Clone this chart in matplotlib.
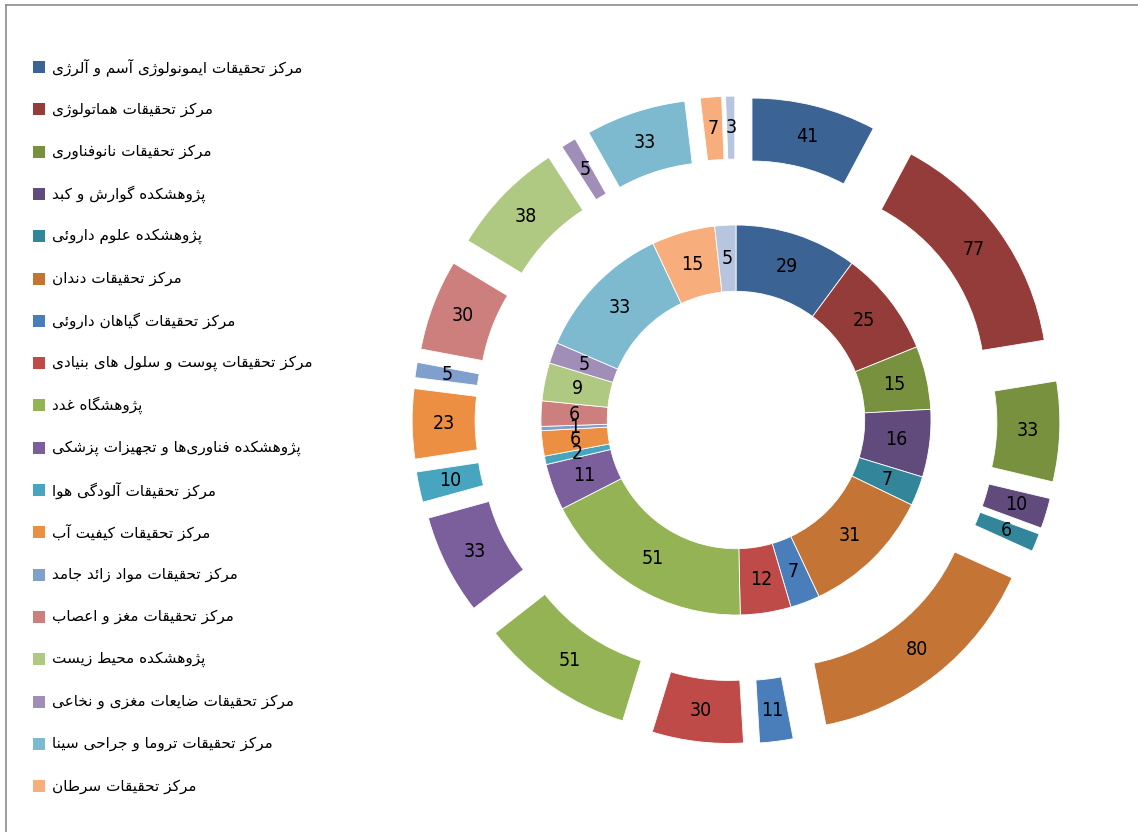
#!/usr/bin/env python3
'''Double donut of research centres (inner and outer ring), Persian legend.'''

import math
import matplotlib
matplotlib.use('Agg')
import matplotlib.pyplot as plt
from matplotlib import font_manager
from matplotlib.patches import Rectangle
from matplotlib.lines import Line2D


centres = [
	'مرکز تحقیقات ایمونولوژی آسم و آلرژی',
	'مرکز تحقیقات هماتولوژی',
	'مرکز تحقیقات نانوفناوری',
	'پژوهشکده گوارش و کبد',
	'پژوهشکده علوم داروئی',
	'مرکز تحقیقات دندان ',
	'مرکز تحقیقات گیاهان داروئی',
	'مرکز تحقیقات پوست و سلول های بنیادی',
	'پژوهشگاه غدد',
	'پژوهشکده فناوری\u200cها و تجهیزات پزشکی',
	'مرکز تحقیقات آلودگی هوا',
	'مرکز تحقیقات کیفیت آب',
	'مرکز تحقیقات مواد زائد جامد',
	'مرکز تحقیقات مغز و اعصاب',
	'پژوهشکده محیط زیست',
	'مرکز تحقیقات ضایعات مغزی و نخاعی',
	'مرکز تحقیقات تروما و جراحی سینا',
	'مرکز تحقیقات سرطان',
]
# 19th slice has no legend entry in the original
inner_values = [29, 25, 15, 16, 7, 31, 7, 12, 51, 11, 2, 6, 1, 6, 9, 5, 33, 15, 5]
outer_values = [41, 77, 33, 10, 6, 80, 11, 30, 51, 33, 10, 23, 5, 30, 38, 5, 33, 7, 3]

colors = ['#3b6494', '#943c3a', '#77913f', '#614a7c', '#33869a', '#c47535',
	'#4a7ebb', '#be4b48', '#93b354', '#7b5e9c', '#47a5bf', '#ec8f42',
	'#809fcc', '#cd7f7e', '#afc882', '#a08db8', '#7db9cf', '#f7ad7c', '#b8c5df']


# --- minimal arabic/persian shaping (matplotlib has no text shaping) ---
FORMS = {
	'\u0621': ('\uFE80', None, None, None),
	'\u0622': ('\uFE81', '\uFE82', None, None),
	'\u0623': ('\uFE83', '\uFE84', None, None),
	'\u0624': ('\uFE85', '\uFE86', None, None),
	'\u0625': ('\uFE87', '\uFE88', None, None),
	'\u0626': ('\uFE89', '\uFE8A', '\uFE8B', '\uFE8C'),
	'\u0627': ('\uFE8D', '\uFE8E', None, None),
	'\u0628': ('\uFE8F', '\uFE90', '\uFE91', '\uFE92'),
	'\u0629': ('\uFE93', '\uFE94', None, None),
	'\u062A': ('\uFE95', '\uFE96', '\uFE97', '\uFE98'),
	'\u062B': ('\uFE99', '\uFE9A', '\uFE9B', '\uFE9C'),
	'\u062C': ('\uFE9D', '\uFE9E', '\uFE9F', '\uFEA0'),
	'\u062D': ('\uFEA1', '\uFEA2', '\uFEA3', '\uFEA4'),
	'\u062E': ('\uFEA5', '\uFEA6', '\uFEA7', '\uFEA8'),
	'\u062F': ('\uFEA9', '\uFEAA', None, None),
	'\u0630': ('\uFEAB', '\uFEAC', None, None),
	'\u0631': ('\uFEAD', '\uFEAE', None, None),
	'\u0632': ('\uFEAF', '\uFEB0', None, None),
	'\u0633': ('\uFEB1', '\uFEB2', '\uFEB3', '\uFEB4'),
	'\u0634': ('\uFEB5', '\uFEB6', '\uFEB7', '\uFEB8'),
	'\u0635': ('\uFEB9', '\uFEBA', '\uFEBB', '\uFEBC'),
	'\u0636': ('\uFEBD', '\uFEBE', '\uFEBF', '\uFEC0'),
	'\u0637': ('\uFEC1', '\uFEC2', '\uFEC3', '\uFEC4'),
	'\u0638': ('\uFEC5', '\uFEC6', '\uFEC7', '\uFEC8'),
	'\u0639': ('\uFEC9', '\uFECA', '\uFECB', '\uFECC'),
	'\u063A': ('\uFECD', '\uFECE', '\uFECF', '\uFED0'),
	'\u0641': ('\uFED1', '\uFED2', '\uFED3', '\uFED4'),
	'\u0642': ('\uFED5', '\uFED6', '\uFED7', '\uFED8'),
	'\u0644': ('\uFEDD', '\uFEDE', '\uFEDF', '\uFEE0'),
	'\u0645': ('\uFEE1', '\uFEE2', '\uFEE3', '\uFEE4'),
	'\u0646': ('\uFEE5', '\uFEE6', '\uFEE7', '\uFEE8'),
	'\u0647': ('\uFEE9', '\uFEEA', '\uFEEB', '\uFEEC'),
	'\u0648': ('\uFEED', '\uFEEE', None, None),
	'\u067E': ('\uFB56', '\uFB57', '\uFB58', '\uFB59'),
	'\u0686': ('\uFB7A', '\uFB7B', '\uFB7C', '\uFB7D'),
	'\u0698': ('\uFB8A', '\uFB8B', None, None),
	'\u06A9': ('\uFB8E', '\uFB8F', '\uFB90', '\uFB91'),
	'\u06AF': ('\uFB92', '\uFB93', '\uFB94', '\uFB95'),
	'\u06CC': ('\uFBFC', '\uFBFD', '\uFBFE', '\uFBFF'),
}


def shape(text):
	'''Picks contextual forms and reverses for display (all-RTL strings only).'''
	out = []
	for i, c in enumerate(text):
		if c not in FORMS:
			out.append(c)
			continue
		prev = text[i - 1] if i > 0 else None
		nxt = text[i + 1] if i + 1 < len(text) else None
		iso, fin, ini, med = FORMS[c]
		after = prev in FORMS and FORMS[prev][2] is not None and fin is not None
		before = nxt in FORMS and FORMS[nxt][1] is not None and ini is not None
		if after and before:
			out.append(med)
		elif after:
			out.append(fin)
		elif before:
			out.append(ini)
		else:
			out.append(iso)
	return ''.join(reversed(out)).replace('\u200c', '').strip()


# narrow font for the slice numbers if there is one
installed = {f.name for f in font_manager.fontManager.ttflist}
num_family = 'Liberation Sans Narrow' if 'Liberation Sans Narrow' in installed else 'DejaVu Sans'

W, H = 1138, 832
fig = plt.figure(figsize=(W / 100, H / 100), dpi=100)

# donut centre (736, 420) px, 195 px per data unit
cx, cy, unit, lim = 736, 420, 195, 1.7
half = lim * unit
ax = fig.add_axes([(cx - half) / W, (H - cy - half) / H, 2 * half / W, 2 * half / H])

inner, _ = ax.pie(inner_values, radius=1.0, colors=colors, startangle=90,
	counterclock=False, wedgeprops=dict(width=0.34, edgecolor='white', linewidth=0.6))
outer, _ = ax.pie(outer_values, radius=1.323, colors=colors, startangle=90,
	counterclock=False, explode=[0.338] * len(outer_values),
	wedgeprops=dict(width=0.323, edgecolor='white', linewidth=0.6))

for wedges, values in ((inner, inner_values), (outer, outer_values)):
	for w, v in zip(wedges, values):
		ang = math.radians((w.theta1 + w.theta2) / 2)
		rr = w.r - w.width / 2
		x = w.center[0] + rr * math.cos(ang)
		y = w.center[1] + rr * math.sin(ang)
		ax.text(x, y, str(v), ha='center', va='center', fontsize=14,
			family=num_family, fontstretch='condensed', color='black')

ax.set_xlim(-lim, lim)
ax.set_ylim(-lim, lim)
ax.set_aspect('equal')
ax.axis('off')

# legend, drawn by hand
row0, step = 67, 42.3
for i, name in enumerate(centres):
	yc = row0 + i * step
	fig.patches.append(Rectangle((33 / W, 1 - (yc + 6) / H), 12 / W, 12 / H,
		transform=fig.transFigure, facecolor=colors[i], edgecolor='none'))
	fig.text(52 / W, 1 - yc / H, shape(name), ha='left', va='center',
		fontsize=11, family='DejaVu Sans', color='black')

# chart frame (left and top edges visible)
fig.lines.append(Line2D([6 / W, 6 / W], [0, 1 - 5 / H], transform=fig.transFigure,
	color='#8c8c8c', linewidth=1.2))
fig.lines.append(Line2D([6 / W, 1], [1 - 5 / H, 1 - 5 / H], transform=fig.transFigure,
	color='#8c8c8c', linewidth=1.2))

fig.savefig('out.png', dpi=100)
